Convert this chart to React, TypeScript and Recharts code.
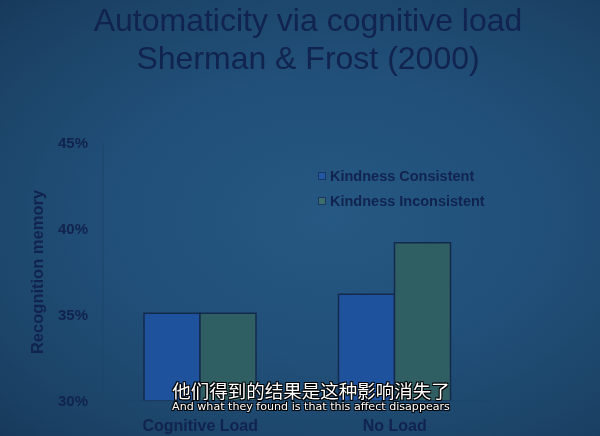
import { Bar, BarChart, Legend, XAxis, YAxis } from 'recharts'

const categories = ['Cognitive Load', 'No Load']
const kindnessConsistent = [35.1, 36.2]
const kindnessInconsistent = [35.1, 39.2]
const yTicks = [30, 35, 40, 45]

const data = categories.map((name, i) => ({
  name,
  consistent: kindnessConsistent[i],
  inconsistent: kindnessInconsistent[i],
}))

const ink = '#11234f'
const font = '"Liberation Sans", Arial, sans-serif'

const legendItems = [
  { label: 'Kindness Consistent', color: '#2358a6' },
  { label: 'Kindness Inconsistent', color: '#3b6d6a' },
]

function LegendBox() {
  return (
    <div style={{ fontFamily: font, fontWeight: 'bold', fontSize: 14.5, color: ink }}>
      {legendItems.map((item) => (
        <div key={item.label} style={{ display: 'flex', alignItems: 'center', height: 25 }}>
          <span
            style={{
              display: 'inline-block',
              width: 6,
              height: 6,
              background: item.color,
              border: '1px solid #1a3560',
              marginRight: 4,
            }}
          />
          {item.label}
        </div>
      ))}
    </div>
  )
}

export default function App() {
  return (
    <div
      style={{
        position: 'fixed',
        left: 0,
        top: 0,
        width: 600,
        height: 436,
        overflow: 'hidden',
        background:
          'radial-gradient(ellipse at 55% 50%, #255882 0%, #21507a 45%, #1c4468 80%, #173a5c 100%)',
      }}
    >
      <div
        style={{
          position: 'absolute',
          top: 0,
          left: 0,
          width: 616,
          textAlign: 'center',
          fontFamily: font,
          fontSize: 32,
          lineHeight: '38px',
          color: ink,
          paddingTop: 1,
        }}
      >
        <div>Automaticity via cognitive load</div>
        <div>Sherman &amp; Frost (2000)</div>
      </div>

      <div style={{ position: 'absolute', left: 0, top: 0 }}>
        <BarChart
          width={600}
          height={436}
          data={data}
          margin={{ top: 143, right: 108, bottom: 0, left: 0 }}
          barGap={0}
          barSize={56}
        >
          <XAxis
            dataKey='name'
            height={35}
            axisLine={{ stroke: '#1c4569', strokeWidth: 1 }}
            tickLine={false}
            tickMargin={13}
            tick={{ fill: ink, fontSize: 16, fontWeight: 'bold', fontFamily: font }}
          />
          <YAxis
            width={103}
            domain={[30, 45]}
            ticks={yTicks}
            allowDataOverflow
            tickFormatter={(v) => `${v}%`}
            axisLine={{ stroke: '#1c4569', strokeWidth: 1 }}
            tickLine={false}
            tickMargin={9}
            tick={{ fill: ink, fontSize: 15, fontWeight: 'bold', fontFamily: font }}
            label={{
              value: 'Recognition memory',
              angle: -90,
              position: 'insideLeft',
              offset: 37,
              textAnchor: 'middle',
              fill: ink,
              fontSize: 16.5,
              fontWeight: 'bold',
              fontFamily: font,
            }}
          />
          <Legend
            layout='vertical'
            verticalAlign='middle'
            align='center'
            wrapperStyle={{ left: 318, top: 163, width: 220 }}
            content={() => <LegendBox />}
          />
          <Bar
            dataKey='consistent'
            name='Kindness Consistent'
            fill='#1f529c'
            stroke='#142a4c'
            strokeWidth={1.5}
            isAnimationActive={false}
          />
          <Bar
            dataKey='inconsistent'
            name='Kindness Inconsistent'
            fill='#2f5f63'
            stroke='#142a4c'
            strokeWidth={1.5}
            isAnimationActive={false}
          />
        </BarChart>
      </div>

      <div
        style={{
          position: 'absolute',
          left: 0,
          width: 622,
          top: 381,
          textAlign: 'center',
          color: '#ffffff',
          textShadow:
            '1px 1px 0 #000, -1px -1px 0 #000, 1px -1px 0 #000, -1px 1px 0 #000, 0 1px 0 #000, 0 -1px 0 #000',
        }}
      >
        <div style={{ fontFamily: '"Noto Sans CJK SC", sans-serif', fontSize: 18.5, lineHeight: '18px' }}>
          他们得到的结果是这种影响消失了
        </div>
        <div
          style={{
            fontFamily: '"DejaVu Sans", sans-serif',
            fontSize: 11.1,
            lineHeight: '12px',
            marginTop: 2,
          }}
        >
          And what they found is that this affect disappears
        </div>
      </div>
    </div>
  )
}
